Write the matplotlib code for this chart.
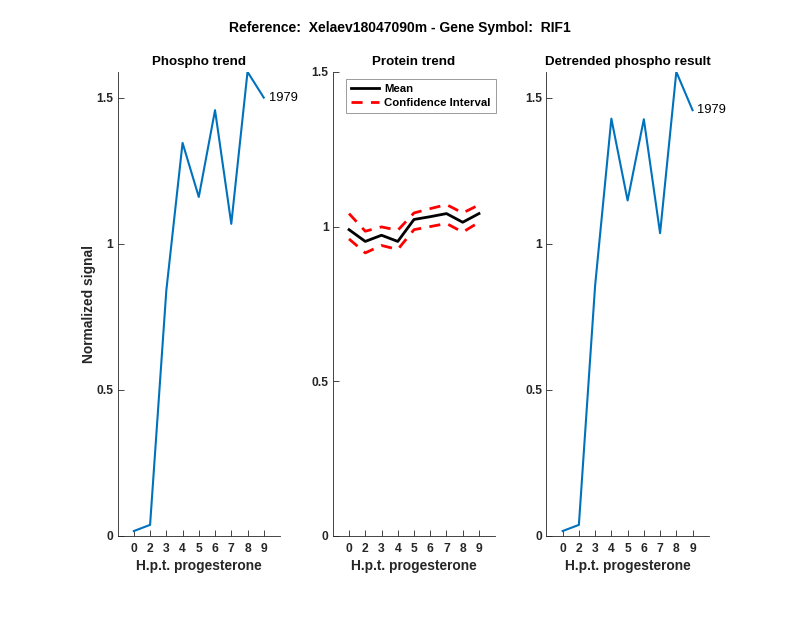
import matplotlib.pyplot as plt

plt.rcParams['font.family'] = ['Liberation Sans', 'DejaVu Sans']

# hours post progesterone, drawn at evenly spaced positions
hours = ['0', '2', '3', '4', '5', '6', '7', '8', '9']
positions = list(range(1, len(hours) + 1))

phospho = [0.017, 0.038, 0.84, 1.345, 1.16, 1.457, 1.068, 1.588, 1.50]
protein_mean = [0.990, 0.952, 0.972, 0.952, 1.023, 1.032, 1.042, 1.014, 1.042]
protein_upper = [1.042, 0.985, 0.999, 0.988, 1.044, 1.058, 1.071, 1.044, 1.070]
protein_lower = [0.960, 0.915, 0.939, 0.926, 0.990, 1.000, 1.010, 0.982, 1.014]
detrended = [0.017, 0.038, 0.857, 1.428, 1.148, 1.426, 1.036, 1.588, 1.457]

peptide_id = '1979'
suptitle = 'Reference:  Xelaev18047090m - Gene Symbol:  RIF1'

axis_gray = '#262626'
blue = '#0072BD'

fig = plt.figure(figsize=(8, 6.18), dpi=100)

bottom, height = 0.1327, 0.751
lefts = [0.147, 0.416, 0.683]
width = 0.203
axes = [fig.add_axes([l, bottom, width, height]) for l in lefts]


def style_axes(ax, title):
    ax.set_xlim(0, 10)
    ax.set_xticks(positions)
    ax.set_xticklabels(hours)
    for side in ['top', 'right']:
        ax.spines[side].set_visible(False)
    for side in ['left', 'bottom']:
        ax.spines[side].set_color(axis_gray)
        ax.spines[side].set_linewidth(0.6)
    ax.tick_params(direction='in', length=4, width=0.6, color=axis_gray,
                   labelcolor=axis_gray, labelsize=8.7)
    ax.tick_params(axis='x', pad=5)
    ax.tick_params(axis='y', pad=3)
    for lbl in ax.get_xticklabels() + ax.get_yticklabels():
        lbl.set_fontweight('bold')
    ax.set_title(title, fontsize=9.6, fontweight='bold', pad=5)
    ax.set_xlabel('H.p.t. progesterone', fontsize=9.9, fontweight='bold',
                  color=axis_gray, labelpad=3)


def ytick_fmt(vals):
    return ['%g' % v for v in vals]


# Phospho trend
ax = axes[0]
ax.plot(positions, phospho, color=blue, linewidth=1.5)
ax.set_ylim(0, max(phospho))
ax.set_yticks([0, 0.5, 1, 1.5])
ax.set_yticklabels(ytick_fmt([0, 0.5, 1, 1.5]))
ax.text(positions[-1] + 0.3, phospho[-1], peptide_id, fontsize=9.3,
        va='center', ha='left')
style_axes(ax, 'Phospho trend')
ax.set_ylabel('Normalized signal', fontsize=9.9, fontweight='bold',
              color=axis_gray, labelpad=0)

# Protein trend
ax = axes[1]
ax.plot(positions, protein_mean, color='black', linewidth=2, label='Mean')
ax.plot(positions, protein_upper, color='red', linewidth=2,
        linestyle=(0, (4, 3)), label='Confidence Interval')
ax.plot(positions, protein_lower, color='red', linewidth=2,
        linestyle=(0, (4, 3)))
ax.set_ylim(0, 1.5)
ax.set_yticks([0, 0.5, 1, 1.5])
ax.set_yticklabels(ytick_fmt([0, 0.5, 1, 1.5]))
style_axes(ax, 'Protein trend')
leg = ax.legend(loc='upper left', bbox_to_anchor=(0.08, 0.985),
                fancybox=False, framealpha=1, edgecolor='#8c8c8c',
                borderaxespad=0, handlelength=2.5, handletextpad=0.4,
                borderpad=0.45, labelspacing=0.35,
                prop={'size': 8.2, 'weight': 'bold'})
leg.get_frame().set_linewidth(0.6)

# Detrended phospho result
ax = axes[2]
ax.plot(positions, detrended, color=blue, linewidth=1.5)
ax.set_ylim(0, max(detrended))
ax.set_yticks([0, 0.5, 1, 1.5])
ax.set_yticklabels(ytick_fmt([0, 0.5, 1, 1.5]))
ax.text(positions[-1] + 0.3, detrended[-1], peptide_id, fontsize=9.3,
        va='center', ha='left')
style_axes(ax, 'Detrended phospho result')

fig.text(0.5, 1 - 28 / 618, suptitle, ha='center', va='center',
         fontsize=10, fontweight='bold')

fig.savefig('out.png', dpi=100, facecolor='white')
